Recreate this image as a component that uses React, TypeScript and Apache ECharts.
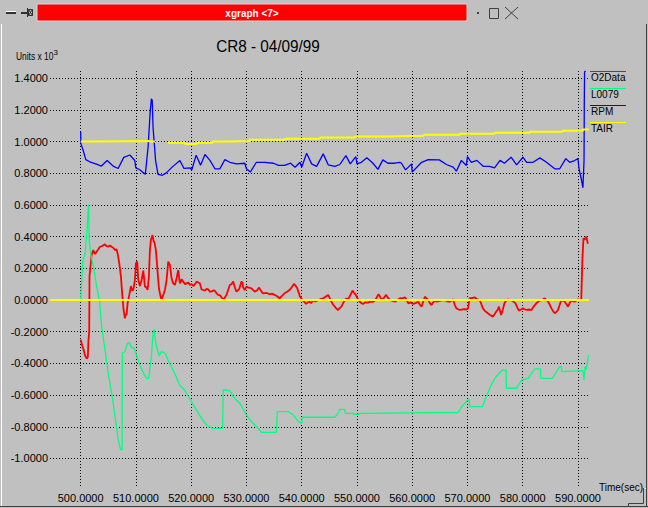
import React, { useEffect, useRef } from "react";
import * as echarts from "echarts";

const FONT = "'Liberation Sans', Arial, Helvetica, sans-serif";

const xTicks = [500, 510, 520, 530, 540, 550, 560, 570, 580, 590];
const yTicks = [-1.0, -0.8, -0.6, -0.4, -0.2, 0, 0.2, 0.4, 0.6, 0.8, 1.0, 1.2, 1.4];
const seriesNames = ["O2Data", "L0079", "RPM", "TAIR"];
const seriesColors = ["#ff0000", "#00ff7f", "#0000ff", "#ffff00"];
const chartTitle = "CR8 - 04/09/99";
const windowTitle = "xgraph <7>";
const yUnits = "Units x 10";
const yUnitsExp = "3";
const xName = "Time(sec)";

const o2Data: [number, number][] = [
  [500.0, -0.25], [500.3, -0.29], [500.5, -0.31], [500.8, -0.35], [501.1, -0.37], [501.3, -0.36], [501.4, -0.26],
  [501.55, -0.2], [501.6, 0.15], [501.98, 0.284], [502.28, 0.315], [502.6, 0.29], [502.88, 0.305], [503.2, 0.32],
  [503.49, 0.336], [503.9, 0.34], [504.39, 0.351], [504.7, 0.34], [504.99, 0.336], [505.3, 0.345], [505.6, 0.336],
  [505.9, 0.33], [506.2, 0.315], [506.5, 0.32], [506.69, 0.294], [506.99, 0.231], [507.29, 0.147], [507.53, 0.032],
  [507.77, -0.063], [508.01, -0.116], [508.15, -0.09], [508.31, -0.095], [508.49, -0.021], [508.8, 0.032],
  [509.1, 0.088], [509.3, 0.06], [509.52, 0.063], [509.82, 0.126], [510.0, 0.231], [510.24, 0.242], [510.42, 0.126],
  [510.72, 0.088], [511.03, 0.126], [511.33, 0.185], [511.63, 0.084], [511.93, 0.08], [512.11, 0.063], [512.35, 0.147],
  [512.53, 0.315], [512.71, 0.378], [513.01, 0.41], [513.2, 0.37], [513.32, 0.368], [513.62, 0.315], [513.92, 0.179],
  [514.16, 0.074], [514.46, 0.021], [514.64, 0.004], [514.95, 0.032], [515.25, 0.063], [515.55, 0.126], [515.85, 0.242],
  [516.15, 0.221], [516.45, 0.137], [516.75, 0.105], [517.06, 0.095], [517.36, 0.137], [517.66, 0.189], [517.96, 0.105],
  [518.26, 0.13], [518.56, 0.116], [518.9, 0.1], [519.16, 0.105], [519.5, 0.11], [519.77, 0.095], [520.1, 0.1],
  [520.37, 0.088], [520.7, 0.1], [520.97, 0.116], [521.3, 0.11], [521.57, 0.105], [521.87, 0.067], [522.18, 0.063],
  [522.48, 0.059], [522.8, 0.07], [523.08, 0.067], [523.39, 0.053], [523.68, 0.053], [523.95, 0.06], [524.28, 0.059],
  [524.6, 0.042], [524.89, 0.032], [525.2, 0.03], [525.49, 0.017], [525.8, 0.0], [525.91, 0.0], [526.39, 0.032],
  [526.69, 0.063], [527.0, 0.095], [527.3, 0.1], [527.6, 0.116], [527.9, 0.08], [528.2, 0.053], [528.5, 0.063],
  [528.7, 0.07], [529.1, 0.116], [529.3, 0.11], [529.4, 0.08], [529.7, 0.063], [530.0, 0.084], [530.3, 0.08],
  [530.9, 0.074], [531.5, 0.053], [531.9, 0.06], [532.3, 0.078], [532.6, 0.06], [533.0, 0.042], [533.6, 0.045],
  [534.2, 0.036], [534.6, 0.04], [535.1, 0.032], [535.5, 0.025], [536.0, 0.011], [536.4, 0.025], [536.9, 0.042],
  [537.3, 0.05], [537.8, 0.063], [538.2, 0.08], [538.6, 0.101], [538.9, 0.09], [539.2, 0.074], [539.7, 0.021],
  [540.3, -0.006], [540.8, -0.025], [541.1, -0.015], [541.4, -0.011], [541.7, -0.02], [542.1, 0.0], [542.5, -0.01],
  [543.0, 0.0], [543.4, 0.005], [543.9, 0.011], [544.3, 0.02], [544.8, 0.032], [545.1, 0.01], [545.4, -0.011],
  [545.7, -0.03], [546.0, -0.042], [546.3, -0.055], [546.6, -0.063], [546.9, -0.05], [547.2, -0.042], [547.5, -0.02],
  [547.8, 0.0], [548.1, 0.01], [548.4, 0.004], [548.8, 0.03], [549.2, 0.059], [549.5, 0.045], [549.8, 0.032],
  [550.1, 0.01], [550.5, -0.011], [550.8, -0.02], [551.1, -0.025], [551.5, -0.015], [552.0, -0.017], [552.5, -0.01],
  [553.0, -0.011], [553.5, 0.01], [553.9, 0.036], [554.2, 0.02], [554.5, 0.0], [554.9, 0.015], [555.3, 0.032],
  [555.6, 0.015], [556.0, 0.0], [556.4, -0.005], [556.9, -0.011], [557.3, 0.0], [557.8, 0.011], [558.2, 0.01],
  [558.7, 0.017], [559.0, 0.0], [559.3, -0.021], [559.7, -0.015], [560.2, -0.025], [560.6, -0.02], [561.1, -0.011],
  [561.4, -0.03], [561.7, -0.042], [562.0, -0.01], [562.3, 0.021], [562.6, 0.01], [562.9, 0.0], [563.2, -0.02],
  [563.5, -0.032], [563.8, -0.015], [564.1, -0.005], [564.5, -0.01], [565.0, -0.006], [565.4, -0.002], [565.9, 0.0],
  [566.3, -0.008], [566.8, -0.011], [567.1, -0.002], [567.4, 0.004], [567.7, -0.03], [568.0, -0.053], [568.3, -0.058],
  [568.6, -0.063], [569.0, -0.06], [569.5, -0.058], [569.8, -0.06], [570.1, -0.053], [570.4, 0.011], [570.8, 0.012],
  [571.3, 0.017], [571.7, 0.005], [572.2, 0.0], [572.5, -0.025], [572.8, -0.053], [573.2, -0.07], [573.7, -0.084],
  [574.1, -0.095], [574.6, -0.105], [574.9, -0.09], [575.2, -0.074], [575.5, -0.06], [575.7, -0.042], [575.9, -0.07],
  [576.1, -0.095], [576.4, -0.06], [576.7, -0.021], [577.0, -0.005], [577.3, 0.004], [577.6, 0.0], [577.9, 0.0],
  [578.3, -0.01], [578.7, -0.021], [579.0, -0.045], [579.3, -0.067], [579.7, -0.06], [580.05, -0.053], [580.4, -0.06],
  [580.7, -0.063], [581.2, -0.06], [581.6, -0.063], [581.9, -0.045], [582.2, -0.032], [582.5, -0.02], [582.8, -0.011],
  [583.1, -0.005], [583.4, 0.0], [583.7, 0.005], [584.0, 0.011], [584.3, 0.0], [584.6, -0.011], [584.9, -0.03],
  [585.2, -0.053], [585.5, -0.07], [585.8, -0.084], [586.1, -0.075], [586.4, -0.063], [586.7, -0.03], [587.0, 0.0],
  [587.3, -0.005], [587.6, -0.011], [587.9, -0.025], [588.2, -0.042], [588.5, -0.02], [588.8, 0.0], [589.1, -0.008],
  [589.4, -0.011], [589.7, -0.003], [590.0, 0.004], [590.3, 0.0], [590.6, 0.004], [590.8, 0.25], [591.0, 0.389],
  [591.2, 0.38], [591.5, 0.4], [591.8, 0.355],
];

const l0079Data: [number, number][] = [
  [500.0, 0.0], [500.4, 0.252], [500.8, 0.29], [501.1, 0.42], [501.4, 0.589], [501.45, 0.6], [501.55, 0.378],
  [501.8, 0.294], [502.3, 0.21], [502.9, 0.084], [503.4, 0.0], [503.8, -0.168], [504.4, -0.315], [505.0, -0.463],
  [505.8, -0.631], [506.4, -0.778], [506.8, -0.883], [507.2, -0.942], [507.5, -0.946], [507.55, -0.336],
  [508.0, -0.326], [508.5, -0.273], [508.8, -0.269], [509.2, -0.299], [509.7, -0.305], [510.1, -0.347],
  [510.7, -0.41], [511.4, -0.463], [511.9, -0.494], [512.3, -0.494], [512.8, -0.358], [513.1, -0.21],
  [513.3, -0.185], [513.6, -0.273], [514.2, -0.353], [514.6, -0.326], [515.3, -0.336], [515.8, -0.379],
  [516.4, -0.42], [517.3, -0.484], [517.9, -0.536], [518.8, -0.568], [519.7, -0.62], [520.6, -0.673],
  [521.5, -0.726], [522.3, -0.768], [523.0, -0.795], [523.9, -0.81], [525.7, -0.81], [525.8, -0.568],
  [527.0, -0.572], [527.6, -0.61], [528.8, -0.652], [530.0, -0.726], [531.2, -0.778], [532.1, -0.81],
  [532.7, -0.835], [535.4, -0.835], [535.6, -0.705], [537.6, -0.705], [538.5, -0.726], [539.4, -0.768],
  [540.0, -0.778], [540.1, -0.74], [546.0, -0.74], [546.6, -0.715], [546.9, -0.69], [547.8, -0.69],
  [547.9, -0.715], [549.3, -0.715], [549.4, -0.721], [550.4, -0.721], [550.5, -0.715], [563.7, -0.711],
  [568.3, -0.711], [568.9, -0.677], [569.8, -0.641], [570.3, -0.627], [570.4, -0.673], [572.7, -0.673],
  [573.4, -0.61], [574.3, -0.536], [575.2, -0.484], [576.3, -0.442], [577.0, -0.442], [577.05, -0.557],
  [578.9, -0.557], [579.8, -0.505], [581.0, -0.494], [582.2, -0.435], [583.2, -0.435], [583.3, -0.494],
  [585.4, -0.494], [586.7, -0.42], [587.0, -0.42], [587.1, -0.452], [590.9, -0.446], [591.1, -0.505],
  [591.3, -0.42], [591.5, -0.44], [591.7, -0.4], [591.9, -0.347],
];

const rpmData: [number, number][] = [
  [500.0, 1.063], [500.05, 0.985], [500.45, 0.945], [500.93, 0.886], [501.65, 0.872], [502.86, 0.857],
  [503.76, 0.845], [504.79, 0.88], [505.87, 0.845], [506.78, 0.83], [507.8, 0.9], [508.9, 0.915], [509.8, 0.88],
  [509.98, 0.834], [510.7, 0.822], [511.7, 0.793], [512.2, 0.964], [512.6, 1.196], [512.8, 1.27], [512.95, 1.26],
  [513.1, 1.09], [513.56, 0.88], [514.0, 0.793], [514.76, 0.787], [515.5, 0.802], [516.6, 0.84], [517.96, 0.88],
  [518.7, 0.83], [519.8, 0.834], [520.1, 0.82], [520.9, 0.914], [521.7, 0.851], [522.5, 0.918], [523.4, 0.881],
  [524.3, 0.828], [525.2, 0.828], [526.1, 0.886], [527.0, 0.869], [528.2, 0.859], [529.7, 0.863], [530.0, 0.828],
  [530.7, 0.807], [531.8, 0.869], [533.3, 0.869], [534.9, 0.863], [535.8, 0.849], [536.9, 0.849], [538.0, 0.863],
  [538.8, 0.838], [539.7, 0.869], [540.0, 0.838], [540.9, 0.926], [541.8, 0.859], [542.7, 0.843], [543.9, 0.922],
  [544.8, 0.853], [546.0, 0.843], [546.9, 0.855], [548.0, 0.911], [548.8, 0.859], [549.8, 0.905], [550.0, 0.859],
  [550.8, 0.869], [551.8, 0.897], [552.9, 0.863], [553.8, 0.824], [554.7, 0.884], [555.6, 0.863], [556.8, 0.863],
  [557.75, 0.869], [558.05, 0.863], [558.8, 0.821], [559.9, 0.859], [560.0, 0.807], [561.7, 0.869], [562.9, 0.886],
  [564.9, 0.884], [566.2, 0.855], [567.4, 0.838], [568.0, 0.813], [568.9, 0.881], [569.8, 0.849], [570.0, 0.905],
  [570.7, 0.869], [571.7, 0.881], [572.9, 0.843], [574.0, 0.843], [574.9, 0.834], [575.9, 0.881], [576.7, 0.863],
  [577.9, 0.901], [578.9, 0.853], [580.05, 0.901], [580.7, 0.869], [581.9, 0.869], [583.1, 0.897], [584.3, 0.869],
  [585.8, 0.828], [586.7, 0.828], [587.8, 0.892], [588.5, 0.869], [589.4, 0.88], [590.0, 0.892], [590.2, 0.828],
  [590.6, 0.765], [590.9, 0.708], [591.1, 0.88], [591.15, 1.26], [591.2, 1.44], [591.4, 1.445],
];

// step values: each value holds from its time until the next point
const tairData: [number, number | null][] = [
  [500.0, 1.0], [501.7, 1.004], [512.2, 1.0], [513.1, 1.0], [513.5, null], [515.8, 0.992], [518.9, 0.985],
  [521.0, 0.992], [523.9, 1.0], [527.4, 1.004], [530.6, 1.011], [537.0, 1.017], [543.3, 1.025], [549.6, 1.032],
  [555.9, 1.036], [562.1, 1.042], [568.6, 1.049], [574.9, 1.055], [581.3, 1.061], [587.2, 1.068], [590.9, 1.076],
  [592.0, 1.076],
];

export default function App() {
  const ref = useRef<HTMLDivElement>(null);

  useEffect(() => {
    document.body.style.margin = "0";
    const el = ref.current;
    if (!el) return;
    const chart = echarts.init(el, null, { renderer: "svg" });

    const lineSeries = (name: string, data: any[], color: string, width: number, z: number, step?: any) => ({
      name,
      type: "line",
      data,
      step,
      showSymbol: false,
      symbol: "none",
      connectNulls: false,
      silent: true,
      z,
      lineStyle: { color, width },
      itemStyle: { color },
    });

    const legendY = [71.5, 88.5, 105.5, 122.5];
    const legendGraphics: any[] = [];
    seriesNames.forEach((n, i) => {
      legendGraphics.push({
        type: "line",
        shape: { x1: 590, y1: legendY[i], x2: 626, y2: legendY[i] },
        style: { stroke: seriesColors[i], lineWidth: 1 },
        z: 100,
      });
      legendGraphics.push({
        type: "text",
        x: 591,
        y: legendY[i] + 5.8,
        style: { text: n, fill: "#000", font: `10px ${FONT}`, verticalAlign: "middle", align: "left" },
        z: 100,
      });
    });

    const chrome: any[] = [
      // window frame
      { type: "line", shape: { x1: 1.5, y1: 24, x2: 1.5, y2: 506 }, style: { stroke: "#ffffff", lineWidth: 1 } },
      { type: "line", shape: { x1: 646.5, y1: 24, x2: 646.5, y2: 507 }, style: { stroke: "#404040", lineWidth: 1 } },
      { type: "line", shape: { x1: 0, y1: 506.5, x2: 648, y2: 506.5 }, style: { stroke: "#404040", lineWidth: 1 } },
      {
        type: "polyline",
        shape: { points: [[643.5, 488], [643.5, 503.5], [628.5, 503.5], [628.5, 507]] },
        style: { stroke: "#404040", lineWidth: 1, fill: null },
      },
      {
        type: "polyline",
        shape: { points: [[644.5, 488.5], [646, 488.5]] },
        style: { stroke: "#ffffff", lineWidth: 1, fill: null },
      },
      // title bar
      { type: "rect", shape: { x: 37, y: 4, width: 430, height: 17 }, style: { fill: "#ff0000", stroke: "#d8d8d8", lineWidth: 1 } },
      {
        type: "text",
        x: 252,
        y: 13,
        style: { text: windowTitle, fill: "#ffffff", font: `bold 10px ${FONT}`, align: "center", verticalAlign: "middle" },
      },
      // left buttons
      { type: "rect", shape: { x: 6, y: 12, width: 10, height: 2 }, style: { fill: "#303030" } },
      { type: "rect", shape: { x: 6, y: 11, width: 10, height: 1 }, style: { fill: "#ffffff" } },
      { type: "rect", shape: { x: 21, y: 12, width: 6, height: 2 }, style: { fill: "#303030" } },
      { type: "line", shape: { x1: 27.5, y1: 8, x2: 27.5, y2: 17 }, style: { stroke: "#303030", lineWidth: 1 } },
      { type: "rect", shape: { x: 28.5, y: 9.5, width: 4, height: 6 }, style: { fill: null, stroke: "#303030", lineWidth: 1 } },
      { type: "line", shape: { x1: 28.5, y1: 9.5, x2: 32.5, y2: 15.5 }, style: { stroke: "#303030", lineWidth: 1 } },
      { type: "line", shape: { x1: 32.5, y1: 9.5, x2: 28.5, y2: 15.5 }, style: { stroke: "#303030", lineWidth: 1 } },
      // right buttons
      { type: "rect", shape: { x: 477, y: 12, width: 2, height: 2 }, style: { fill: "#404040" } },
      { type: "rect", shape: { x: 489.5, y: 8.5, width: 9, height: 10 }, style: { fill: null, stroke: "#404040", lineWidth: 1 } },
      { type: "line", shape: { x1: 505, y1: 7, x2: 518, y2: 19 }, style: { stroke: "#404040", lineWidth: 1 } },
      { type: "line", shape: { x1: 518, y1: 7, x2: 505, y2: 19 }, style: { stroke: "#404040", lineWidth: 1 } },
      // chart title
      {
        type: "text",
        x: 268,
        y: 46,
        scaleX: 0.9,
        originX: 0,
        originY: 0,
        style: { text: chartTitle, fill: "#000", font: `17px ${FONT}`, align: "center", verticalAlign: "middle" },
      },
      // y units
      {
        type: "text",
        x: 16,
        y: 56,
        scaleX: 0.8,
        originX: 0,
        originY: 0,
        style: { text: yUnits, fill: "#000", font: `10.5px ${FONT}`, align: "left", verticalAlign: "middle" },
      },
      {
        type: "text",
        x: 53.5,
        y: 52,
        style: { text: yUnitsExp, fill: "#000", font: `8px ${FONT}`, align: "left", verticalAlign: "middle" },
      },
    ];

    const option: any = {
      animation: false,
      backgroundColor: "#c0c0c0",
      textStyle: { fontFamily: FONT },
      grid: { left: 50, right: 59, top: 71, bottom: 21, containLabel: false, outerBoundsMode: "none" },
      xAxis: {
        type: "value",
        min: 494.45,
        max: 592.0,
        name: xName,
        nameLocation: "end",
        nameGap: 10,
        nameTextStyle: { color: "#000", fontSize: 10, fontFamily: FONT, align: "left", verticalAlign: "middle", padding: [0, 0, 2, 0] },
        axisLine: { show: false, onZero: false },
        axisTick: { show: false, customValues: xTicks },
        axisLabel: {
          customValues: xTicks,
          formatter: (v: number) => v.toFixed(4),
          color: "#000",
          fontSize: 11,
          fontFamily: FONT,
          margin: 5,
        },
        splitLine: { show: true, lineStyle: { color: "#000", type: [1, 2], width: 1 } },
      },
      yAxis: {
        type: "value",
        min: -1.18,
        max: 1.445,
        axisLine: { show: false, onZero: false },
        axisTick: { show: false, customValues: yTicks },
        axisLabel: {
          customValues: yTicks,
          formatter: (v: number) => v.toFixed(4),
          color: "#000",
          fontSize: 11,
          fontFamily: FONT,
          margin: 2,
        },
        splitLine: { show: true, lineStyle: { color: "#000", type: [1, 2], width: 1 } },
      },
      series: [
        {
          type: "line",
          data: [],
          silent: true,
          z: 1,
          markLine: {
            silent: true,
            symbol: "none",
            label: { show: false },
            lineStyle: { color: "#ffff00", width: 2, type: "solid" },
            data: [{ yAxis: 0 }],
          },
        },
        lineSeries(seriesNames[0], o2Data, seriesColors[0], 1.8, 3),
        lineSeries(seriesNames[1], l0079Data, seriesColors[1], 1.3, 4),
        lineSeries(seriesNames[2], rpmData, seriesColors[2], 1.3, 5),
        lineSeries(seriesNames[3], tairData, seriesColors[3], 2, 6, "end"),
      ],
      graphic: [...chrome, ...legendGraphics],
    };

    chart.setOption(option);
    return () => chart.dispose();
  }, []);

  return <div ref={ref} style={{ width: 648, height: 508 }} />;
}
